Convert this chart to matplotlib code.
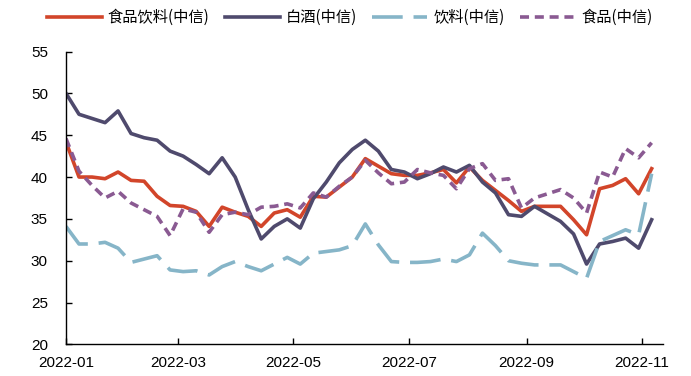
import pandas as pd
import matplotlib.pyplot as plt
import matplotlib.dates as mdates

plt.rcParams['font.family'] = ['Liberation Sans', 'Noto Sans CJK SC', 'DejaVu Sans']

# weekly observations, Jan - early Nov 2022
dates = pd.date_range("2022-01-01", "2022-11-06", periods=46)

food_bev = [44.2, 40.0, 40.0, 39.8, 40.6, 39.6, 39.5, 37.7, 36.6, 36.5,
            35.9, 34.1, 36.4, 35.8, 35.3, 34.1, 35.7, 36.1, 35.2, 37.7,
            37.6, 38.8, 40.0, 42.2, 41.3, 40.4, 40.2, 40.2, 40.5, 40.9,
            39.3, 41.2, 39.6, 38.4, 37.2, 35.9, 36.5, 36.5, 36.5, 34.9,
            33.1, 38.6, 39.0, 39.8, 38.0, 41.0]
baijiu = [50.0, 47.5, 47.0, 46.5, 47.9, 45.2, 44.7, 44.4, 43.1, 42.5,
          41.5, 40.4, 42.3, 40.0, 36.1, 32.6, 34.1, 35.0, 33.9, 37.4,
          39.4, 41.7, 43.3, 44.4, 43.1, 40.9, 40.6, 39.8, 40.4, 41.2,
          40.6, 41.4, 39.4, 38.1, 35.5, 35.3, 36.5, 35.6, 34.7, 33.2,
          29.6, 32.0, 32.3, 32.7, 31.5, 34.9]
beverage = [34.1, 32.0, 32.0, 32.2, 31.5, 29.8, 30.2, 30.6, 28.9, 28.7,
            28.8, 28.3, 29.3, 29.9, 29.3, 28.8, 29.6, 30.4, 29.6, 30.9,
            31.1, 31.3, 31.8, 34.4, 31.9, 29.9, 29.8, 29.8, 29.9, 30.2,
            29.9, 30.7, 33.3, 31.8, 30.0, 29.7, 29.5, 29.5, 29.5, 28.7,
            27.9, 32.3, 33.0, 33.7, 33.1, 40.4]
food = [44.6, 40.7, 39.0, 37.5, 38.3, 36.9, 36.1, 35.3, 33.0, 36.2,
        35.8, 33.4, 35.5, 35.8, 35.5, 36.4, 36.5, 36.8, 36.3, 38.1,
        37.6, 38.9, 40.0, 42.0, 40.5, 39.2, 39.4, 40.9, 40.5, 40.2,
        38.6, 41.0, 41.6, 39.6, 39.8, 36.3, 37.5, 38.0, 38.5, 37.5,
        35.7, 40.6, 40.0, 43.4, 42.3, 44.1]

fig = plt.figure(figsize=(6.91, 3.76), dpi=100)
ax = fig.add_axes([0.0955, 0.084, 0.864, 0.779])

lw = 2.6
ax.plot(dates, food_bev, color="#d2452a", lw=lw, label="食品饮料(中信)")
ax.plot(dates, baijiu, color="#4f4a6d", lw=lw, label="白酒(中信)")
ax.plot(dates, beverage, color="#86b5c8", lw=lw, dashes=(8.5, 3), label="饮料(中信)")
ax.plot(dates, food, color="#8a5a92", lw=lw, dashes=(2.5, 1.6), label="食品(中信)")

ax.set_ylim(20, 55)
ax.set_yticks(range(20, 56, 5))
ax.set_xlim(pd.Timestamp("2022-01-01"), pd.Timestamp("2022-11-12"))
ax.xaxis.set_major_locator(mdates.MonthLocator(bymonth=[1, 3, 5, 7, 9, 11]))
ax.xaxis.set_major_formatter(mdates.DateFormatter("%Y-%m"))

for s in ("top", "right"):
    ax.spines[s].set_visible(False)
for s in ("left", "bottom"):
    ax.spines[s].set_linewidth(1.0)
ax.tick_params(direction="in", length=4, width=1, labelsize=11)
ax.tick_params(axis="y", pad=13)
ax.tick_params(axis="x", pad=8)

ax.legend(loc="center", bbox_to_anchor=(0.475, 1.115), ncol=4, frameon=False,
          handlelength=3.6, columnspacing=1.0, handletextpad=0.4,
          prop={"family": ["Noto Sans CJK SC"], "size": 11})

fig.savefig("out.png")
